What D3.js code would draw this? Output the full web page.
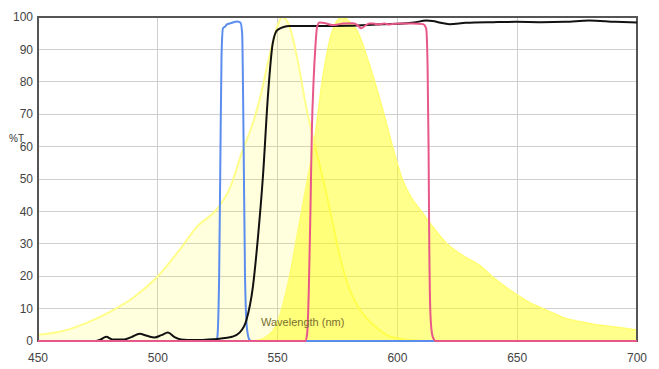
<!DOCTYPE html>
<html><head><meta charset="utf-8">
<script src="https://cdn.jsdelivr.net/npm/d3@7"></script>
<style>
html,body{margin:0;padding:0;background:#fff;}
svg{display:block;font-family:Arial,"Liberation Sans",sans-serif;}
</style></head>
<body><svg id="chart" width="659" height="369"></svg>
<script>
// Data: wavelength (nm) and %T
const xTicks = [450, 500, 550, 600, 650, 700];
const yTicks = [0, 10, 20, 30, 40, 50, 60, 70, 80, 90, 100];

const excitationSpectrum = [
  [450,1.9],[460,3],[470,5.5],[480,9],[490,13.5],[500,20],[510,29],[516,35],[525,41],[530,47],
  [535,58],[540,68],[543,76],[546,86],[549,95],[552,100],[555,97],[558,88],[562,72],[565,62],
  [568,53],[572,40],[576,26],[580,16],[584,10],[590,5],[597,1.3],[605,0.3],[612,0]
];
const emissionSpectrum = [
  [540,0],[545,1.2],[550,6],[555,20],[558,32],[562,48],[565,60],[569,82],[573,96],[577,100],
  [580,98.5],[583,96],[588,86],[594,71],[598,60],[602,50],[606,44],[610,40],[614,36],[620,30.5],
  [627,26.5],[634,23.5],[641,19],[649,14.7],[656,11.5],[662,9.6],[669,7.3],[676,6],[683,5],
  [690,4.4],[700,3.4]
];
const excitationFilter = [
  [450,0],[524,0],[524.8,1],[525.6,20],[526.1,55],[526.6,88],[527.2,96.5],[528,97],[529,97.8],
  [531,98.2],[533,98.6],[534.5,98.3],[535.2,95],[535.8,62],[536.4,20],[537.2,4],[538.3,0.3],[539,0],[700,0]
];
const dichroic = [
  [450,0],[474,0],[476,0.4],[478.5,1.3],[481,0.5],[486,0.5],[489,1.2],[492.4,2.2],[495.5,1.6],
  [498.6,1.1],[501.5,1.8],[504.2,2.6],[507,1.2],[509.7,0.5],[515,0.3],[520,0.4],[525,0.6],
  [528,0.9],[531,1.3],[534,2.5],[537,6.5],[539.7,16.8],[541.8,32],[543.9,51],[546,76],[548,92],
  [550,96],[555,97.2],[566,97.2],[580,97.3],[594,97.8],[601,97.9],[607,98.3],[612,98.9],
  [614.7,98.8],[618,98.2],[621.7,97.8],[628.6,98.2],[640,98.4],[649.4,98.5],[660,98.4],
  [670,98.5],[680,98.9],[691,98.5],[700,98.3]
];
const emissionFilter = [
  [450,0],[561.5,0],[562.3,2],[563,15],[563.7,40],[564.3,65],[565,80],[565.7,90],[566.5,97],
  [567.5,98.3],[570.3,98],[572.9,97.5],[575.8,97.8],[577.2,98],[581.4,98.1],[583.5,97.4],
  [584.9,96.5],[586.5,97.3],[588.3,98],[590,98],[591.8,97.7],[594.6,98],[596.7,97.7],
  [599,97.9],[601,98],[606.4,98],[610.7,97.8],[612,96.5],[612.6,84.7],[613,60],[613.3,30],
  [613.8,8],[614.5,2],[615.4,0.3],[616,0],[700,0]
];

const W = 659, H = 369;
const m = {left:38, top:17, right:22, bottom:28};
const svg = d3.select("#chart");
const x = d3.scaleLinear().domain([450,700]).range([m.left, W - m.right]);
const y = d3.scaleLinear().domain([0,100]).range([H - m.bottom, m.top]);

// grid
const g = svg.append("g");
g.selectAll(".vg").data(xTicks.slice(1,-1)).join("line")
  .attr("x1", d=>x(d)).attr("x2", d=>x(d)).attr("y1", y(0)).attr("y2", y(100))
  .attr("stroke", "#cfcfcf").attr("stroke-width", 1).attr("shape-rendering","crispEdges");
g.selectAll(".hg").data(yTicks.slice(1,-1)).join("line")
  .attr("x1", x(450)).attr("x2", x(700)).attr("y1", d=>y(d)).attr("y2", d=>y(d))
  .attr("stroke", "#cfcfcf").attr("stroke-width", 1).attr("shape-rendering","crispEdges");

const area = d3.area().x(d=>x(d[0])).y0(y(0)).y1(d=>y(d[1])).curve(d3.curveMonotoneX);
const line = d3.line().x(d=>x(d[0])).y(d=>y(d[1])).curve(d3.curveMonotoneX);

// pale excitation spectrum
svg.append("path").datum(excitationSpectrum).attr("d", area)
  .attr("fill", "rgba(255,255,0,0.13)").attr("stroke", "#ffff8a").attr("stroke-width", 2);
// bright emission spectrum
svg.append("path").datum(emissionSpectrum).attr("d", area)
  .attr("fill", "rgba(255,255,0,0.45)").attr("stroke", "#ffff70").attr("stroke-width", 1.5);

// frame
svg.append("path")
  .attr("d", `M${x(450)},${y(0)}V${y(100)}H${x(700)}V${y(0)}H${x(450)}Z`)
  .attr("fill","none").attr("stroke","#555").attr("stroke-width",2);

// filter lines
svg.append("path").datum(excitationFilter).attr("d", line)
  .attr("fill","none").attr("stroke","#5b8def").attr("stroke-width",2);
svg.append("path").datum(dichroic).attr("d", line)
  .attr("fill","none").attr("stroke","#111").attr("stroke-width",2);
svg.append("path").datum(emissionFilter).attr("d", line)
  .attr("fill","none").attr("stroke","#e8578a").attr("stroke-width",2);

// tick labels
svg.selectAll(".yl").data(yTicks).join("text")
  .attr("x", m.left - 5).attr("y", d=>y(d)).attr("dy","0.35em")
  .attr("text-anchor","end").attr("font-size",12).attr("fill","#444").text(d=>d);
svg.selectAll(".xl").data(xTicks).join("text")
  .attr("x", d=>x(d)).attr("y", H - 11).attr("dy","0.35em")
  .attr("text-anchor","middle").attr("font-size",12).attr("fill","#444").text(d=>d);

// axis titles
svg.append("text").attr("x", 9).attr("y", 138).attr("dy","0.35em")
  .attr("font-size",10).attr("fill","#333").text("%T");
svg.append("text").attr("x", 261).attr("y", 322).attr("dy","0.35em")
  .attr("font-size",11).attr("fill","#7a7030").text("Wavelength (nm)");
</script></body></html>
